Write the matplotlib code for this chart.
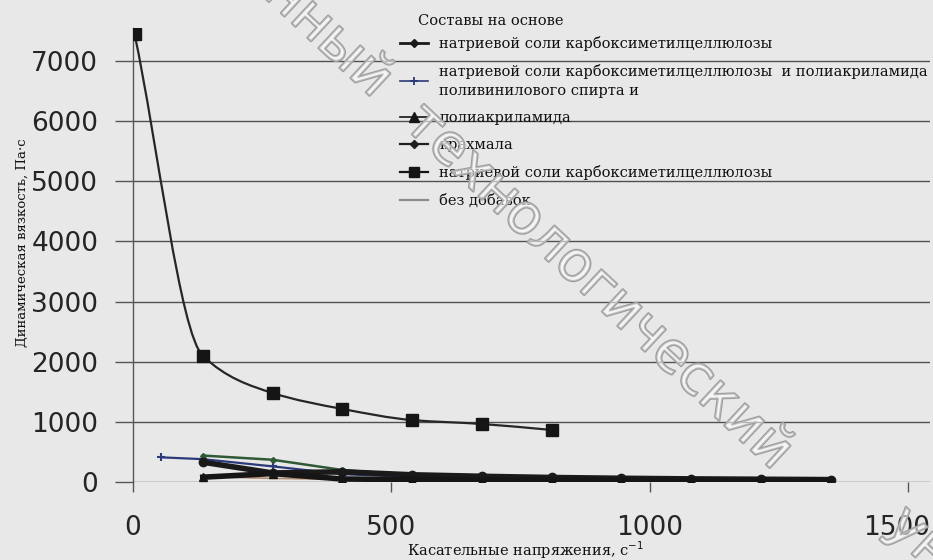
import numpy as np
import matplotlib
matplotlib.use("Agg")
import matplotlib.pyplot as plt
from matplotlib.path import Path
from matplotlib.patches import PathPatch
from matplotlib.lines import Line2D
import matplotlib.patheffects as pe
import matplotlib.transforms as mtransforms

# ---------------- data ----------------
x_main = [3, 135, 270, 405, 540, 675, 810]
y_cmc_main = [7450, 2100, 1480, 1215, 1030, 965, 865]

x_low = [135, 270, 405, 540, 675, 810, 945, 1080, 1215, 1350]
y_cmc = [330, 150, 170, 120, 95, 75, 62, 52, 46, 40]
x_cmc_paa = [55, 135, 270, 405, 540, 675, 810, 945, 1080, 1215, 1350]
y_cmc_paa = [410, 380, 260, 130, 85, 65, 55, 45, 40, 35, 30]
y_paa = [80, 140, 50, 40, 35, 30, 28, 25, 22, 20]
y_starch = [440, 370, 200, 110, 75, 55, 45, 40, 35, 30]
y_none = [90, 60, 45, 35, 30, 25, 20, 18, 15, 12]

x_ticks = [0, 500, 1000, 1500]
y_ticks = [0, 1000, 2000, 3000, 4000, 5000, 6000, 7000]

legend_title = "Составы на основе"
labels = [
    "натриевой соли карбоксиметилцеллюлозы",
    "натриевой соли карбоксиметилцеллюлозы  и полиакриламида\nполивинилового спирта и",
    "полиакриламида",
    "крахмала",
    "натриевой соли карбоксиметилцеллюлозы",
    "без добавок",
]
xlabel = "Касательные напряжения, с$^{-1}$"
ylabel = "Динамическая вязкость, Па·с"
watermark = ["Белорусский государственный", "технологический", "университет"]


def smooth_path(x, y):
    """Monotone cubic Bezier path through the data points (Excel-like smoothing)."""
    x = np.asarray(x, float)
    y = np.asarray(y, float)
    h = np.diff(x)
    d = np.diff(y) / h
    m = np.zeros_like(x)
    for k in range(1, len(x) - 1):
        if d[k - 1] * d[k] > 0:
            w1 = 2 * h[k] + h[k - 1]
            w2 = h[k] + 2 * h[k - 1]
            m[k] = (w1 + w2) / (w1 / d[k - 1] + w2 / d[k])
    m[0] = d[0]
    m[-1] = d[-1]
    verts = [(x[0], y[0])]
    codes = [Path.MOVETO]
    for k in range(len(x) - 1):
        verts += [(x[k] + h[k] / 3, y[k] + m[k] * h[k] / 3),
                  (x[k + 1] - h[k] / 3, y[k + 1] - m[k + 1] * h[k] / 3),
                  (x[k + 1], y[k + 1])]
        codes += [Path.CURVE4] * 3
    return Path(verts, codes)


BG = "#e8e8e8"
fig = plt.figure(figsize=(9.33, 5.6), dpi=100, facecolor=BG)
ax = fig.add_axes([133 / 933, 78 / 560, 797 / 933, 454 / 560])
ax.set_facecolor("none")

ax.set_xlim(0, 1542)
ax.set_ylim(0, 7550)

# grid
ax.set_yticks(y_ticks)
ax.set_xticks(x_ticks)
ax.yaxis.grid(True, color="#505050", lw=1.0, zorder=0)
ax.xaxis.grid(False)
for s in ["top", "right", "bottom"]:
    ax.spines[s].set_visible(False)
ax.spines["left"].set_color("#555555")
ax.spines["left"].set_linewidth(1.0)

ax.tick_params(axis="y", length=13, width=1, color="#555555", pad=12,
               labelsize=19, labelcolor="#252525")
ax.tick_params(axis="x", length=7, width=1, color="#555555", pad=17,
               labelsize=19, labelcolor="#252525")
for t in ax.get_xticklabels() + ax.get_yticklabels():
    t.set_family("DejaVu Sans")
# the last x tick label sits slightly left in the scan
last = ax.get_xticklabels()[-1]
last.set_transform(last.get_transform() +
                   mtransforms.ScaledTranslation(-12 / 100, 0, fig.dpi_scale_trans))

# lower cluster
ax.plot(x_cmc_paa, y_cmc_paa, color="#2b3a7a", lw=1.6, marker="+",
        ms=6, mew=1.5, zorder=3)
ax.plot(x_low, y_starch, color="#2f5a36", lw=1.8, marker="D", ms=3, zorder=3)
ax.plot(x_low, y_none, color="#b08a70", lw=1.2, zorder=3)
ax.plot(x_low, y_cmc, color="#1a1a1a", lw=4.0, marker="o", ms=6, zorder=4)
ax.plot(x_low, y_paa, color="#151515", lw=4.0, marker="^", ms=6, zorder=4)

# main series (smoothed)
ax.add_patch(PathPatch(smooth_path(x_main, y_cmc_main), fill=False,
                       ec="#262626", lw=1.6, zorder=5))
ax.plot(x_main, y_cmc_main, ls="none", marker="s", ms=8.5, color="#151515",
        zorder=6)

# axis labels
ax.set_xlabel(xlabel, family="DejaVu Serif", fontsize=10.5, color="#111111")
ax.xaxis.set_label_coords((525 - 133) / 797, -(539 - 482) / 454)
ax.set_ylabel(ylabel, family="DejaVu Serif", fontsize=9.5, color="#111111")
ax.yaxis.set_label_coords((29 - 133) / 797, (482 - 243) / 454)

# legend
handles = [
    Line2D([], [], color="#1a1a1a", lw=2.0, marker="D", ms=4),
    Line2D([], [], color="#2b3a7a", lw=1.2, marker="+", ms=6, mew=1.3),
    Line2D([], [], color="#151515", lw=1.2, marker="^", ms=7),
    Line2D([], [], color="#1f1f1f", lw=1.6, marker="D", ms=4),
    Line2D([], [], color="#151515", lw=1.6, marker="s", ms=7),
    Line2D([], [], color="#8a8a8a", lw=1.6),
]
fig.text(418 / 933, 1 - 21 / 560, legend_title, family="DejaVu Serif",
         fontsize=10.5, va="center", ha="left", color="#111111")
leg = ax.legend(handles, labels, loc="upper left",
                bbox_to_anchor=(400 / 933, 1 - 36 / 560),
                bbox_transform=fig.transFigure, frameon=False,
                prop=dict(family="DejaVu Serif", size=10.5),
                handlelength=1.9, handletextpad=0.8, labelspacing=0.9,
                borderpad=0, borderaxespad=0)
for t in leg.get_texts():
    t.set_linespacing(1.45)
    t.set_color("#111111")

# watermark (hollow letters)
wm_style = dict(family="DejaVu Sans", fontsize=40, color=(1, 1, 1, 0.35),
                rotation=-43, rotation_mode="anchor", va="baseline",
                path_effects=[pe.withStroke(linewidth=1.6, foreground="#9c9c9c")],
                zorder=10)
fig.text(372 / 933, 1 - 98 / 560, watermark[0], ha="right", **wm_style)
fig.text(402 / 933, 1 - 125 / 560, watermark[1], ha="left", **wm_style)
fig.text(884 / 933, 1 - 528 / 560, watermark[2], ha="left", **wm_style)

fig.savefig("out.png", dpi=100, facecolor=BG)
